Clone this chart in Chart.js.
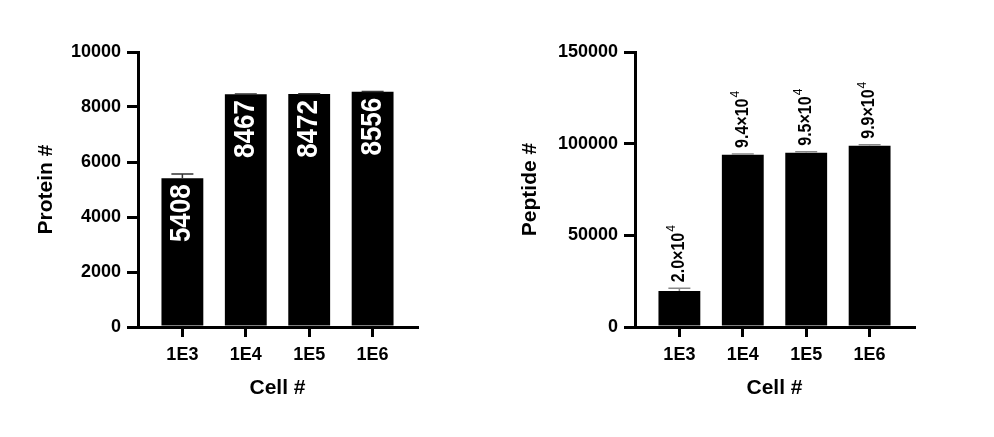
<!DOCTYPE html>
<html>
<head>
<meta charset="utf-8">
<script src="https://cdn.jsdelivr.net/npm/chart.js@4"></script>
<style>
body { margin: 0; background: #fff; }
#wrap { position: relative; width: 994px; height: 437px; }
.box { position: absolute; top: 0; width: 497px; height: 437px; }
</style>
</head>
<body>
<div id="wrap">
  <div class="box" style="left:0"><canvas id="protein"></canvas></div>
  <div class="box" style="left:497px"><canvas id="peptide"></canvas></div>
</div>
<script>
const categories = ['1E3', '1E4', '1E5', '1E6'];

const proteinMean = [5408, 8467, 8472, 8556];
const proteinSD = [160, 10, 10, 10];
const proteinTicks = [0, 2000, 4000, 6000, 8000, 10000];

const peptideMean = [19600, 93900, 95100, 98800];
const peptideSD = [1600, 500, 500, 600];
const peptideTicks = [0, 50000, 100000, 150000];

const FONT = '"Liberation Sans", Arial, sans-serif';
Chart.defaults.color = '#000';
Chart.defaults.font.family = FONT;

// value labels + error bars drawn on top of the bars
const barLabels = {
  id: 'barLabels',
  afterDatasetsDraw(chart, args, opts) {
    const ctx = chart.ctx;
    const yScale = chart.scales.y;
    const meta = chart.getDatasetMeta(0);
    const data = chart.data.datasets[0].data;
    meta.data.forEach((bar, i) => {
      const v = data[i].y;
      const top = yScale.getPixelForValue(v + opts.sd[i]);
      ctx.save();
      ctx.strokeStyle = opts.errColor;
      ctx.lineWidth = 1.5;
      ctx.beginPath();
      ctx.moveTo(bar.x, bar.y);
      ctx.lineTo(bar.x, top);
      ctx.moveTo(bar.x - 11, top);
      ctx.lineTo(bar.x + 11, top);
      ctx.stroke();

      ctx.textBaseline = 'middle';
      if (opts.inside) {
        ctx.translate(bar.x, bar.y + 6);
        ctx.rotate(-Math.PI / 2);
        ctx.scale(1, 1.1);
        ctx.textAlign = 'right';
        ctx.fillStyle = '#fff';
        ctx.font = 'bold 26px ' + FONT;
        ctx.fillText(String(v), 0, 0);
      } else {
        ctx.translate(bar.x, top - 6);
        ctx.rotate(-Math.PI / 2);
        ctx.scale(1, 1.1);
        ctx.textAlign = 'left';
        ctx.fillStyle = '#000';
        ctx.font = 'bold 16px ' + FONT;
        const txt = (v / 1e4).toFixed(1) + '\u00d710';
        ctx.fillText(txt, 0, 0);
        const w = ctx.measureText(txt).width;
        ctx.font = '12px ' + FONT;
        ctx.fillText('4', w + 1, -7);
      }
      ctx.restore();
    });
  }
};

function makeChart(id, mean, sd, yTicks, title, titlePad, labelOpts) {
  const ctx = document.getElementById(id).getContext('2d');
  return new Chart(ctx, {
    type: 'bar',
    data: {
      datasets: [{
        data: mean.map((v, i) => ({ x: i, y: v })),
        backgroundColor: '#000',
        borderWidth: 0,
        categoryPercentage: 1,
        barPercentage: 0.66
      }]
    },
    options: {
      responsive: true,
      maintainAspectRatio: false,
      animation: false,
      layout: { padding: { left: 0, right: 80, top: 52, bottom: 0 } },
      plugins: {
        legend: { display: false },
        tooltip: { enabled: false },
        barLabels: Object.assign({ sd: sd }, labelOpts)
      },
      scales: {
        x: {
          type: 'linear',
          min: -0.7,
          max: 3.7,
          offset: false,
          afterBuildTicks: s => { s.ticks = categories.map((c, i) => ({ value: i })); },
          afterFit: s => { s.height = 110; },
          ticks: {
            callback: v => categories[v],
            font: { size: 18, weight: 'bold' },
            padding: 7,
            maxRotation: 0,
            autoSkip: false
          },
          grid: { drawOnChartArea: false, offset: false, color: '#000', lineWidth: 3, tickLength: 10 },
          border: { display: true, color: '#000', width: 3 },
          title: { display: true, text: 'Cell #', font: { size: 21, weight: 'bold' }, padding: { bottom: 36 } }
        },
        y: {
          min: 0,
          max: yTicks[yTicks.length - 1],
          afterBuildTicks: s => { s.ticks = yTicks.map(v => ({ value: v })); },
          afterFit: s => { s.width = 138; },
          ticks: {
            callback: v => String(v),
            font: { size: 18, weight: 'bold' },
            padding: 6
          },
          grid: { drawOnChartArea: false, color: '#000', lineWidth: 3, tickLength: 11 },
          border: { display: true, color: '#000', width: 3 },
          title: { display: true, text: title, font: { size: 21, weight: 'bold' }, padding: { top: titlePad } }
        }
      }
    },
    plugins: [barLabels]
  });
}

makeChart('protein', proteinMean, proteinSD, proteinTicks, 'Protein #', 34, { inside: true, errColor: '#333' });
makeChart('peptide', peptideMean, peptideSD, peptideTicks, 'Peptide #', 21, { inside: false, errColor: '#888' });
</script>
</body>
</html>
